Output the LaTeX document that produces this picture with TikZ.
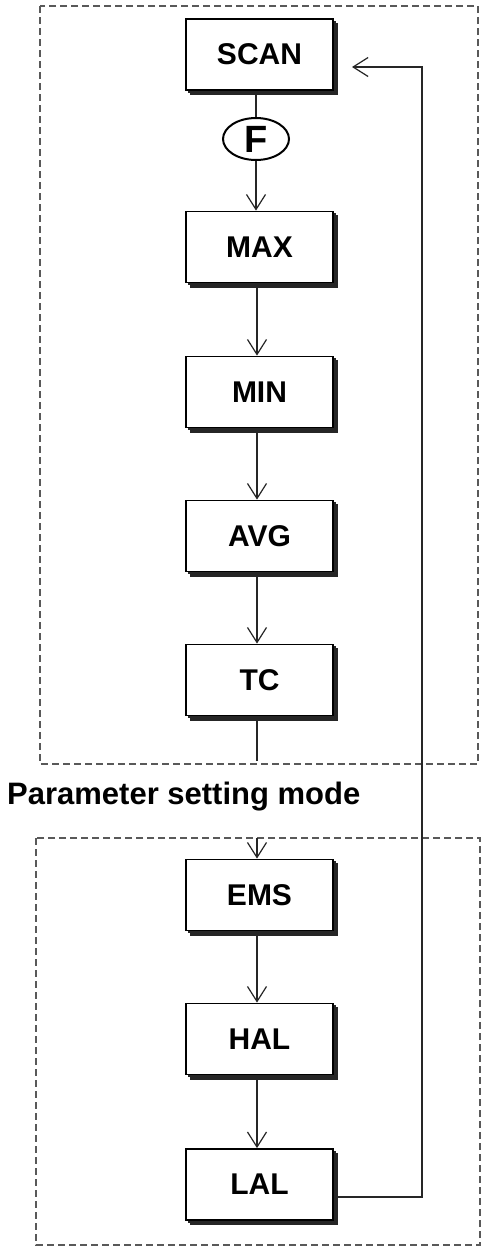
\documentclass[tikz,border=0pt]{standalone}
\usepackage{fontspec}
\setmainfont{Liberation Sans}
\usetikzlibrary{arrows.meta,shapes.geometric,shadows}
\tikzset{
  x=1pt,y=-1pt,
  stepbox/.style={draw=black,line width=1.8pt,fill=white,minimum width=147pt,minimum height=71pt,
    inner sep=0pt,font=\bfseries\fontsize{30}{30}\selectfont,
    double copy shadow={shadow xshift=2.2pt,shadow yshift=-2.2pt,draw=black!85,line width=1.2pt,fill=black!85}},
  conn/.style={line width=1.2pt,draw=black!85},
  arr/.style={conn,-{Straight Barb[length=15pt,width=19pt,line width=1.2pt]}},
  frame/.style={draw=black!65,line width=1.2pt,dash pattern=on 7pt off 4pt},
  fkey/.style={draw=black,line width=2pt,ellipse,minimum width=66pt,minimum height=42pt,inner sep=0pt,
    font=\bfseries\fontsize{38}{38}\selectfont},
  lbl/.style={font=\bfseries\fontsize{31}{31}\selectfont,anchor=west,inner sep=0pt}
}
\begin{document}
\begin{tikzpicture}
\useasboundingbox (0,0) rectangle (489,1254);
\fill[white] (0,0) rectangle (489,1254);
% frames
\draw[frame] (40,6) rectangle (478,764);
\draw[frame] (36,838) rectangle (480,1245);
% boxes
\node[stepbox] (scan) at (259.5,54.5) {SCAN};
\node[fkey] (f) at (256,139) {F};
\node[stepbox] (max) at (259.5,247) {MAX};
\node[stepbox] (min) at (259.5,392) {MIN};
\node[stepbox] (avg) at (259.5,536) {AVG};
\node[stepbox] (tc) at (259.5,680) {TC};
\node[stepbox] (ems) at (259.5,895) {EMS};
\node[stepbox] (hal) at (259.5,1039) {HAL};
\node[stepbox] (lal) at (259.5,1184.5) {LAL};
\node[lbl] (mode) at (7,797) {Parameter setting mode};
% connectors
\coordinate (tcend) at (257,761);
\coordinate (emsstart) at (257,838);
\coordinate (ret1) at (422,1197);
\coordinate (ret2) at (422,67);
\coordinate (rettip) at (352,67);
\draw[conn] (scan.south -| f.north) -- (f.north);
\draw[arr] (f.south) -- (max.north -| f.south);
\draw[arr] (max.south -| 257,0) -- (min.north -| 257,0);
\draw[arr] (min.south -| 257,0) -- (avg.north -| 257,0);
\draw[arr] (avg.south -| 257,0) -- (tc.north -| 257,0);
\draw[conn] (tc.south -| 257,0) -- (tcend);
\draw[arr] (emsstart) -- (ems.north -| 257,0);
\draw[arr] (ems.south -| 257,0) -- (hal.north -| 257,0);
\draw[arr] (hal.south -| 257,0) -- (lal.north -| 257,0);
\draw[arr] (lal.east |- ret1) -- (ret1) -- (ret2) -- (rettip);
\end{tikzpicture}
\end{document}
